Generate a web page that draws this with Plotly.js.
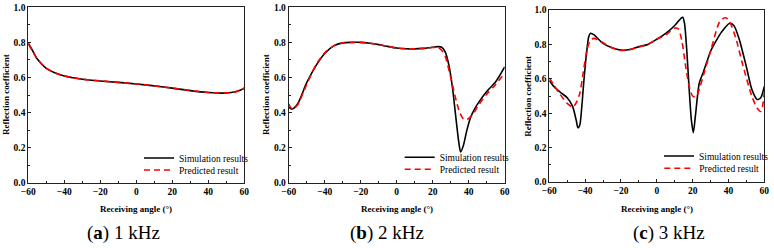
<!DOCTYPE html>
<html>
<head>
<meta charset="utf-8">
<script src="https://cdn.plot.ly/plotly-3.0.1.min.js"></script>
<style>
  html, body { margin: 0; padding: 0; background: #fff; }
  #chart { width: 774px; height: 248px; }
</style>
</head>
<body>
<div id="chart"></div>
<script>
// Reflection coefficient versus receiving angle at three frequencies.
// (a) 1 kHz
const angleSimA = [-60, -58, -55, -50, -45, -40, -35, -30, -20, -10, 0, 10, 20, 30, 40, 45, 50, 55, 58, 60];
const simA      = [0.795, 0.76, 0.705, 0.652, 0.625, 0.608, 0.598, 0.59, 0.58, 0.572, 0.563, 0.552, 0.539, 0.525, 0.514, 0.511, 0.511, 0.518, 0.528, 0.539];
const anglePredA = [-60, -58, -55, -50, -45, -40, -35, -30, -20, -10, 0, 10, 20, 30, 40, 45, 50, 55, 58, 60];
const predA      = [0.79, 0.758, 0.705, 0.653, 0.626, 0.609, 0.598, 0.59, 0.581, 0.572, 0.563, 0.552, 0.54, 0.526, 0.514, 0.512, 0.512, 0.517, 0.528, 0.54];

// (b) 2 kHz
const angleSimB = [-60, -58, -55, -50, -45, -40, -35, -30, -25, -20, -15, -10, -5, 0, 5, 10, 15, 20, 23, 25, 27, 29, 31, 33, 34.5, 35.5, 37, 39, 41, 43, 46, 50, 55, 60];
const simB      = [0.43, 0.42, 0.45, 0.57, 0.665, 0.737, 0.78, 0.797, 0.80, 0.80, 0.795, 0.787, 0.777, 0.768, 0.764, 0.763, 0.766, 0.772, 0.776, 0.772, 0.745, 0.67, 0.54, 0.36, 0.23, 0.175, 0.21, 0.30, 0.37, 0.415, 0.465, 0.52, 0.575, 0.66];
const anglePredB = [-60, -58, -55, -50, -45, -40, -35, -30, -25, -20, -15, -10, -5, 0, 5, 10, 15, 20, 23, 25, 27, 30, 33, 35, 37, 39, 41, 43, 45, 50, 55, 60];
const predB      = [0.45, 0.42, 0.445, 0.56, 0.67, 0.74, 0.78, 0.797, 0.80, 0.80, 0.795, 0.787, 0.777, 0.768, 0.764, 0.763, 0.766, 0.771, 0.77, 0.755, 0.72, 0.60, 0.47, 0.40, 0.365, 0.36, 0.375, 0.40, 0.435, 0.505, 0.56, 0.625];

// (c) 3 kHz
const angleSimC = [-60, -57, -53, -50, -47, -45, -44, -43, -42, -41, -40, -39, -38, -37, -35, -30, -25, -20, -15, -10, -5, 0, 5, 10, 12, 13.5, 14.5, 15.5, 16.7, 18, 19.3, 20.4, 21.5, 23.7, 26, 28, 30, 33.4, 36, 40.5, 43, 46, 50, 53, 56, 58, 60];
const simC      = [0.59, 0.55, 0.515, 0.49, 0.44, 0.36, 0.315, 0.33, 0.42, 0.55, 0.67, 0.77, 0.845, 0.865, 0.855, 0.806, 0.78, 0.767, 0.77, 0.787, 0.80, 0.83, 0.864, 0.91, 0.935, 0.952, 0.958, 0.92, 0.77, 0.55, 0.36, 0.287, 0.38, 0.574, 0.64, 0.70, 0.76, 0.826, 0.87, 0.922, 0.91, 0.83, 0.67, 0.54, 0.48, 0.49, 0.556];
const anglePredC = [-60, -55, -50, -47, -45, -43, -41, -39, -37, -35, -30, -25, -20, -15, -10, -5, 0, 5, 10, 12, 14, 16, 18, 20, 22, 24, 26, 30, 35, 38, 40, 44, 48, 53, 56, 58, 59, 60];
const predC      = [0.605, 0.525, 0.457, 0.435, 0.46, 0.515, 0.64, 0.767, 0.826, 0.835, 0.81, 0.78, 0.765, 0.77, 0.785, 0.80, 0.83, 0.855, 0.895, 0.89, 0.82, 0.68, 0.56, 0.50, 0.495, 0.55, 0.62, 0.76, 0.93, 0.955, 0.945, 0.84, 0.68, 0.50, 0.43, 0.41, 0.44, 0.52];

const seriesNames = ['Simulation results', 'Predicted result'];
const panelLetters = ['a', 'b', 'c'];
const panelFreqs = ['1 kHz', '2 kHz', '3 kHz'];
const xTitle = 'Receiving angle (°)';
const yTitle = 'Reflection coefficient';
const xTickVals = [-60, -40, -20, 0, 20, 40, 60];
const yTickVals = [0, 0.2, 0.4, 0.6, 0.8, 1.0];

// ---- layout helpers (pixel geometry of the 774 x 248 canvas) ----
const W = 774, H = 248;
const px = v => v / W;
const py = v => (H - v) / H;

// plot box of each panel in pixels: [left, right, top, bottom]
const boxes = [
  [28.3, 244.3, 7.3, 182.7],
  [288.7, 504.7, 7.3, 182.7],
  [549.3, 764.3, 10, 182]
];
// legend text start x and row centres
const legendPos = [
  [179, 158, 170],
  [439.7, 157.3, 169.3],
  [699.3, 156, 168.3]
];
const yTitleX = [6, 266, 527.7];
const captionX = [124, 387, 669];

const serif = 'Liberation Serif';
const data = [
  [angleSimA, simA, anglePredA, predA],
  [angleSimB, simB, anglePredB, predB],
  [angleSimC, simC, anglePredC, predC]
];

const traces = [];
const layout = {
  width: W, height: H,
  margin: { l: 0, r: 0, t: 0, b: 0 },
  paper_bgcolor: '#fff',
  plot_bgcolor: '#fff',
  showlegend: true,
  font: { family: serif, color: '#000' },
  annotations: []
};

data.forEach((d, i) => {
  const n = i === 0 ? '' : String(i + 1);
  const xa = 'x' + n, ya = 'y' + n;
  const legA = 'legend' + (i === 0 ? '' : String(2 * i + 1));
  const legB = 'legend' + String(2 * i + 2);

  traces.push({
    x: d[0], y: d[1], xaxis: xa, yaxis: ya,
    type: 'scatter', mode: 'lines', name: seriesNames[0],
    line: { color: '#000', width: 1.6, shape: 'spline', smoothing: 0.7 },
    legend: legA
  });
  traces.push({
    x: d[2], y: d[3], xaxis: xa, yaxis: ya,
    type: 'scatter', mode: 'lines', name: seriesNames[1],
    line: { color: '#ff0000', width: 1.6, dash: '6px,4px', shape: 'spline', smoothing: 0.7 },
    legend: legB
  });

  const b = boxes[i];
  const common = {
    showline: true, mirror: true, linecolor: '#222', linewidth: 1,
    ticks: 'inside', ticklen: 3, tickwidth: 1, tickcolor: '#222',
    showgrid: false, zeroline: false,
    tickfont: { family: serif, size: 9.5, weight: 'bold', color: '#000' },
    fixedrange: true
  };
  layout['xaxis' + n] = Object.assign({}, common, {
    domain: [px(b[0]), px(b[1])], anchor: ya,
    range: [-60, 60], tickvals: xTickVals,
    minor: { dtick: 10, ticks: 'inside', ticklen: 2, tickcolor: '#222' }
  });
  layout['yaxis' + n] = Object.assign({}, common, {
    domain: [py(b[3]), py(b[2])], anchor: xa,
    range: [0, 1], tickvals: yTickVals, tickformat: '.1f',
    minor: { dtick: 0.1, ticks: 'inside', ticklen: 2, tickcolor: '#222' }
  });

  const lp = legendPos[i];
  const legStyle = {
    font: { family: serif, size: 9.5, color: '#000' },
    bgcolor: 'rgba(0,0,0,0)', borderwidth: 0,
    xanchor: 'left', yanchor: 'middle', itemwidth: 30
  };
  layout[legA] = Object.assign({}, legStyle, { x: px(lp[0] - 40), y: py(lp[1]) });
  layout[legB] = Object.assign({}, legStyle, { x: px(lp[0] - 40), y: py(lp[2]) });

  // axis titles
  layout.annotations.push({
    xref: 'paper', yref: 'paper', x: px((b[0] + b[1]) / 2), y: py(209),
    text: '<b>' + xTitle + '</b>', showarrow: false,
    font: { family: serif, size: 9, color: '#000' }, xanchor: 'center', yanchor: 'middle'
  });
  layout.annotations.push({
    xref: 'paper', yref: 'paper', x: px(yTitleX[i]), y: py((b[2] + b[3]) / 2),
    text: '<b>' + yTitle + '</b>', showarrow: false, textangle: -90,
    font: { family: serif, size: 9, color: '#000' }, xanchor: 'center', yanchor: 'middle'
  });
  // panel caption
  layout.annotations.push({
    xref: 'paper', yref: 'paper', x: px(captionX[i]), y: py(233),
    text: '(<b>' + panelLetters[i] + '</b>) ' + panelFreqs[i], showarrow: false,
    font: { family: serif, size: 19, color: '#000' }, xanchor: 'center', yanchor: 'middle'
  });
});

Plotly.newPlot('chart', traces, layout, { staticPlot: true, displayModeBar: false });
</script>
</body>
</html>
